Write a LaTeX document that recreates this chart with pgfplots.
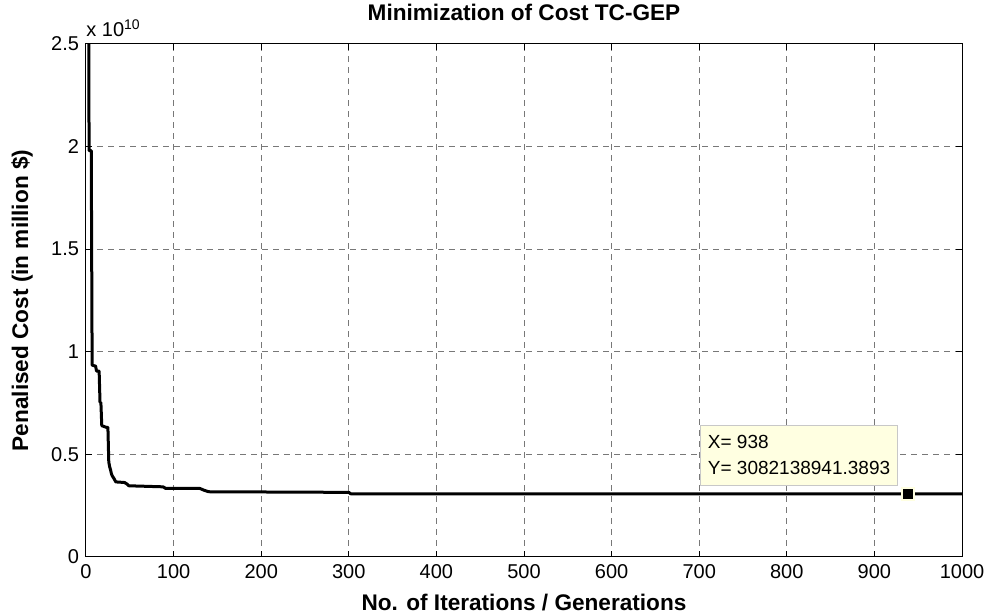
\documentclass[border=0pt]{standalone}
\usepackage{pgfplots}
\pgfplotsset{compat=1.18}
\usepackage{fontspec}
\setmainfont{Liberation Sans}
\usetikzlibrary{calc}
\definecolor{tipfill}{RGB}{255,255,225}
\definecolor{tipedge}{RGB}{200,200,200}
\definecolor{gridgray}{RGB}{120,120,120}
\begin{document}
\begin{tikzpicture}
\begin{axis}[
  scale only axis,
  width=438pt, height=256.5pt,
  xmin=0, xmax=1000, ymin=0, ymax=2.5,
  xtick={0,100,...,1000},
  xticklabels={0,100,200,300,400,500,600,700,800,900,1000},
  ytick={0,0.5,1,1.5,2,2.5},
  yticklabels={0,0.5,1,1.5,2,2.5},
  tick align=inside,
  major tick length=3pt,
  grid=major,
  major grid style={gridgray, dash pattern=on 3pt off 2.5pt, line width=0.5pt},
  axis line style={black, line width=0.5pt},
  tick style={black, line width=0.5pt},
  /pgf/number format/assume math mode=true,
  ticklabel style={font=\fontsize{10}{12}\selectfont},
  xlabel={\bfseries No. of Iterations / Generations},
  xlabel style={at={(axis description cs:0.5,-0.0897)}, anchor=center, font=\fontsize{11.3}{13}\selectfont},
  ylabel={\bfseries Penalised Cost (in million \$)},
  ylabel style={at={(axis description cs:-0.0731,0.5)}, anchor=center, font=\fontsize{11.3}{13}\selectfont},
  clip=true,
]
\addplot[black, line width=1.5pt, line join=round] coordinates {
(1,2.9) (3,2.9) (3.5,1.98) (6,1.98) (7,0.935) (11,0.93) (12,0.906) (15,0.906)
(16,0.753) (17,0.753) (18,0.64) (23,0.632) (25,0.632) (26,0.463) (27,0.44)
(28,0.425) (29,0.406) (30,0.395) (32,0.382) (34,0.366) (44,0.363) (47,0.355)
(49,0.347) (88,0.342) (91,0.334) (130,0.334) (135,0.325) (140,0.318)
(300,0.315) (302,0.3082) (1000,0.3082)
};
\addplot[only marks, mark=square*, mark size=3pt, mark options={fill=black, draw=tipfill, line width=1pt}] coordinates {(938,0.3082)};
\node[anchor=north west, draw=tipedge, fill=tipfill, line width=0.5pt, align=left,
      minimum width=98.5pt, minimum height=30pt, inner xsep=3pt, inner ysep=2pt,
      font=\fontsize{9.5}{13}\selectfont]
  at (axis cs:701,0.644) {X= 938\\Y= 3082138941.3893};
\coordinate (bl) at (rel axis cs:0,0);
\coordinate (tr) at (rel axis cs:1,1);
\coordinate (tc) at (rel axis cs:0.5,1);
\end{axis}
\node[anchor=center, font=\fontsize{11.3}{13}\selectfont\bfseries, inner sep=0pt] at ($(tc)+(0pt,16pt)$) {Minimization of Cost TC-GEP};
\node[anchor=west, font=\fontsize{10}{12}\selectfont, inner sep=0pt] at ($(bl|-tr)+(0pt,8pt)$) {x 10\textsuperscript{10}};
\pgfresetboundingbox
\path[use as bounding box] ($(bl)+(-43pt,-28.5pt)$) rectangle ($(tr)+(13.5pt,22pt)$);
\end{tikzpicture}
\end{document}
